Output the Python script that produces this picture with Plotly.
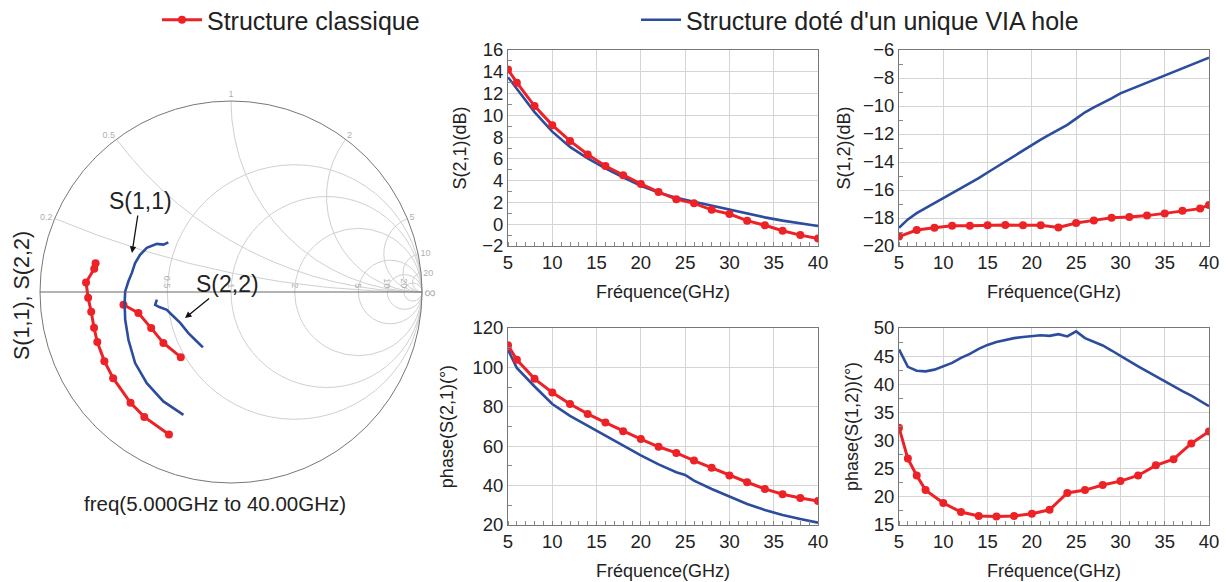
import numpy as np
import plotly.graph_objects as go

# page offset: the browser body has an 8px margin
OFF = 8
W, H = 1228 - OFF, 582 - OFF
RED = "#ec2227"
BLUE = "#2c4c9e"
FONT = "Liberation Sans, Arial, sans-serif"

# ---------------- Data ----------------
# S(2,1) dB
f_s21_red = [5, 6, 8, 10, 12, 14, 16, 18, 20, 22, 24, 26, 28, 30, 32, 34, 36, 38, 40]
s21_red = [14.2, 13.0, 10.85, 9.1, 7.65, 6.4, 5.35, 4.5, 3.7, 2.95, 2.3, 1.92, 1.32, 0.94, 0.33, -0.1, -0.6, -1.0, -1.32]
f_s21_blue = [5, 6, 8, 10, 12, 14, 16, 18, 20, 22, 24, 26, 28, 30, 32, 34, 36, 38, 40]
s21_blue = [13.5, 12.4, 10.3, 8.5, 7.1, 6.05, 5.13, 4.3, 3.54, 2.9, 2.44, 2.07, 1.7, 1.37, 0.94, 0.63, 0.33, 0.08, -0.16]

# S(1,2) dB
f_s12_red = [5, 7, 9, 11, 13, 15, 17, 19, 21, 23, 25, 27, 29, 31, 33, 35, 37, 39, 40]
s12_red = [-19.33, -18.86, -18.69, -18.55, -18.55, -18.52, -18.5, -18.52, -18.52, -18.67, -18.36, -18.17, -17.98, -17.93, -17.83, -17.67, -17.48, -17.33, -17.07]
f_s12_blue = list(range(5, 41))
s12_blue = [-18.7, -18.1, -17.65, -17.3, -16.95, -16.6, -16.2, -15.85, -15.5, -15.15,
            -14.75, -14.35, -13.95, -13.55, -13.2, -12.8, -12.4, -12.05, -11.7, -11.35,
            -10.9, -10.45, -10.1, -9.8, -9.45, -9.1, -8.85, -8.6, -8.35, -8.05,
            -7.8, -7.55, -7.3, -7.05, -6.8, -6.55]

# phase S(2,1) deg
f_p21_red = [5, 6, 8, 10, 12, 14, 16, 18, 20, 22, 24, 26, 28, 30, 32, 34, 36, 38, 40]
p21_red = [111.2, 103.9, 94.2, 87.3, 81.4, 76.4, 72.0, 67.6, 63.6, 59.7, 56.6, 52.7, 49.0, 45.1, 41.7, 38.3, 35.6, 33.7, 32.2]
f_p21_blue = [5, 6, 8, 10, 12, 14, 16, 18, 20, 22, 24, 25, 26, 28, 30, 32, 34, 36, 38, 40]
p21_blue = [109.0, 99.7, 90.3, 81.4, 75.4, 70.3, 65.3, 60.2, 55.3, 50.8, 46.8, 45.4, 42.5, 38.3, 34.4, 30.7, 27.6, 25.1, 23.05, 21.2]

# phase S(1,2) deg
f_p12_red = [5, 6, 7, 8, 10, 12, 14, 16, 18, 20, 22, 24, 26, 28, 30, 32, 34, 36, 38, 40]
p12_red = [32.3, 26.8, 23.8, 21.2, 18.9, 17.3, 16.6, 16.5, 16.6, 17.0, 17.7, 20.7, 21.2, 22.1, 22.8, 23.8, 25.6, 26.7, 29.5, 31.6]
f_p12_blue = list(range(5, 41))
p12_blue = [46.2, 43.1, 42.4, 42.3, 42.6, 43.2, 43.8, 44.7, 45.4, 46.3,
            47.0, 47.5, 47.9, 48.2, 48.4, 48.6, 48.7, 48.6, 48.9, 48.5,
            49.4, 48.2, 47.5, 46.9, 46.0, 45.0, 44.1, 43.2, 42.3, 41.4,
            40.5, 39.6, 38.8, 38.0, 37.1, 36.1]

s11_red_re = [-0.709, -0.716, -0.759, -0.748, -0.732, -0.717, -0.700, -0.663, -0.617, -0.526, -0.454, -0.325]
s11_red_im = [0.150, 0.122, 0.050, -0.030, -0.103, -0.187, -0.262, -0.362, -0.451, -0.580, -0.654, -0.746]
s11_blue_re = [-0.328, -0.354, -0.388, -0.441, -0.476, -0.502, -0.519, -0.537, -0.554, -0.557, -0.554, -0.537, -0.502, -0.441, -0.354, -0.249]
s11_blue_im = [0.260, 0.248, 0.252, 0.231, 0.195, 0.152, 0.100, 0.056, 0.003, -0.058, -0.145, -0.250, -0.372, -0.477, -0.573, -0.643]
s22_red_re = [-0.563, -0.485, -0.418, -0.354, -0.263]
s22_red_im = [-0.067, -0.110, -0.189, -0.267, -0.341]
s22_blue_re = [-0.388, -0.397, -0.375, -0.336, -0.310, -0.266, -0.223, -0.188, -0.147]
s22_blue_im = [-0.040, -0.067, -0.079, -0.093, -0.119, -0.162, -0.215, -0.250, -0.290]

smith_r_ticks = [0.5, 1.0, 2.0, 5.0, 10, 20]
smith_x_ticks = [0.2, 0.5, 1.0, 2.0, 5.0, 10, 20]

freq_range = [5, 40]
xticks = [5, 10, 15, 20, 25, 30, 35, 40]


def gamma_to_z(re, im):
    g = np.array(re) + 1j * np.array(im)
    z = (1 + g) / (1 - g)
    return z.real, z.imag


fig = go.Figure()

red_line = dict(color=RED, width=3)
blue_line = dict(color=BLUE, width=2.6)
red_marker = dict(color=RED, size=8)

# Smith traces
for (re, im, col, mk, name, show) in [
    (s11_red_re, s11_red_im, RED, True, "Structure classique", True),
    (s22_red_re, s22_red_im, RED, True, "Structure classique", False),
    (s11_blue_re, s11_blue_im, BLUE, False, "Structure doté d'un unique VIA hole", True),
    (s22_blue_re, s22_blue_im, BLUE, False, "Structure doté d'un unique VIA hole", False),
]:
    zr, zi = gamma_to_z(re, im)
    fig.add_trace(go.Scattersmith(
        real=zr, imag=zi, subplot="smith",
        mode="lines+markers" if mk else "lines",
        line=red_line if col == RED else blue_line,
        marker=red_marker if mk else None,
        name=name, showlegend=show, legendgroup=name,
    ))

panels = [
    (f_s21_red, s21_red, f_s21_blue, s21_blue, "x", "y"),
    (f_s12_red, s12_red, f_s12_blue, s12_blue, "x2", "y2"),
    (f_p21_red, p21_red, f_p21_blue, p21_blue, "x3", "y3"),
    (f_p12_red, p12_red, f_p12_blue, p12_blue, "x4", "y4"),
]
for fr, vr, fb, vb, xa, ya in panels:
    fig.add_trace(go.Scatter(x=fb, y=vb, mode="lines", line=blue_line, xaxis=xa, yaxis=ya,
                             showlegend=False, legendgroup="b"))
    fig.add_trace(go.Scatter(x=fr, y=vr, mode="lines+markers", line=red_line, marker=red_marker,
                             xaxis=xa, yaxis=ya, showlegend=False, legendgroup="r"))


def px_x(p):
    return (p - OFF) / W


def px_y(p):
    return 1 - (p - OFF) / H


col_x = [[px_x(508), px_x(818)], [px_x(899), px_x(1209)]]
row_y = [[px_y(246), px_y(50)], [px_y(525), px_y(328)]]

tickfont = dict(family=FONT, size=18.5, color="#222")
titlefont = dict(family=FONT, size=18, color="#222")


def xaxis(domain, anchor):
    return dict(domain=domain, anchor=anchor, range=freq_range, tickvals=xticks,
                automargin=False,
                showgrid=True, gridcolor="#d4d4d4", gridwidth=1,
                showline=True, linecolor="#777", linewidth=1, mirror=True,
                ticks="", tickfont=tickfont, zeroline=False,
                minor=dict(dtick=1, tick0=5, ticks="inside", ticklen=4, tickcolor="#888", showgrid=False),
                title=dict(text="Fréquence(GHz)", font=titlefont, standoff=13))


def yaxis(domain, anchor, rng, dtick, title, standoff):
    return dict(domain=domain, anchor=anchor, range=rng, dtick=dtick,
                automargin=False,
                showgrid=True, gridcolor="#d4d4d4", gridwidth=1,
                showline=True, linecolor="#777", linewidth=1, mirror=True,
                ticks="", tickfont=tickfont, zeroline=False,
                minor=dict(dtick=dtick / 2, ticks="inside", ticklen=4, tickcolor="#888", showgrid=False),
                title=dict(text=title, font=titlefont, standoff=standoff))


fig.update_layout(
    width=W, height=H,
    margin=dict(l=0, r=0, t=0, b=0, autoexpand=False),
    paper_bgcolor="white", plot_bgcolor="white",
    font=dict(family=FONT, color="#222"),
    xaxis=xaxis(col_x[0], "y"), yaxis=yaxis(row_y[0], "x", [-2, 16], 2, "S(2,1)(dB)", 10),
    xaxis2=xaxis(col_x[1], "y2"), yaxis2=yaxis(row_y[0], "x2", [-20, -6], 2, "S(1,2)(dB)", 7),
    xaxis3=xaxis(col_x[0], "y3"), yaxis3=yaxis(row_y[1], "x3", [20, 120], 20, "phase(S(2,1)(°)", 14),
    xaxis4=xaxis(col_x[1], "y4"), yaxis4=yaxis(row_y[1], "x4", [15, 50], 5, "phase(S(1,2))(°)", 10),
    smith=dict(
        domain=dict(x=[px_x(40), px_x(422)], y=[px_y(483), px_y(101)]),
        bgcolor="white",
        realaxis=dict(tickvals=smith_r_ticks, gridcolor="#d0d0d0", linecolor="#666",
                      tickfont=dict(size=9, color="#b0b0b0"), showticklabels=True),
        imaginaryaxis=dict(tickvals=smith_x_ticks, gridcolor="#d0d0d0", linecolor="#777",
                           tickfont=dict(size=9, color="#b0b0b0")),
    ),
    legend=dict(orientation="h", x=px_x(157), y=px_y(20), xanchor="left", yanchor="middle",
                font=dict(family=FONT, size=25, color="#222"), bgcolor="rgba(0,0,0,0)",
                entrywidth=424, itemwidth=40),
    showlegend=True,
)

fig.add_annotation(text="S(1,1), S(2,2)", xref="paper", yref="paper", x=px_x(22), y=px_y(296),
                   xanchor="center", yanchor="middle",
                   textangle=-90, showarrow=False, font=dict(family=FONT, size=21.5, color="#222"))
fig.add_annotation(text="freq(5.000GHz to 40.00GHz)", xref="paper", yref="paper", x=px_x(215), y=px_y(503),
                   xanchor="center", yanchor="middle",
                   showarrow=False, font=dict(family=FONT, size=20.5, color="#222"))
fig.add_annotation(text="S(1,1)", xref="paper", yref="paper", x=px_x(132), y=px_y(253),
                   ax=8, ay=-52, showarrow=True, arrowhead=2, arrowsize=1, arrowwidth=1.3, arrowcolor="#111",
                   font=dict(family=FONT, size=23, color="#222"))
fig.add_annotation(text="S(2,2)", xref="paper", yref="paper", x=px_x(185), y=px_y(318),
                   ax=42, ay=-34, showarrow=True, arrowhead=2, arrowsize=1, arrowwidth=1.3, arrowcolor="#111",
                   font=dict(family=FONT, size=23, color="#222"))

fig.write_html("out.html")
